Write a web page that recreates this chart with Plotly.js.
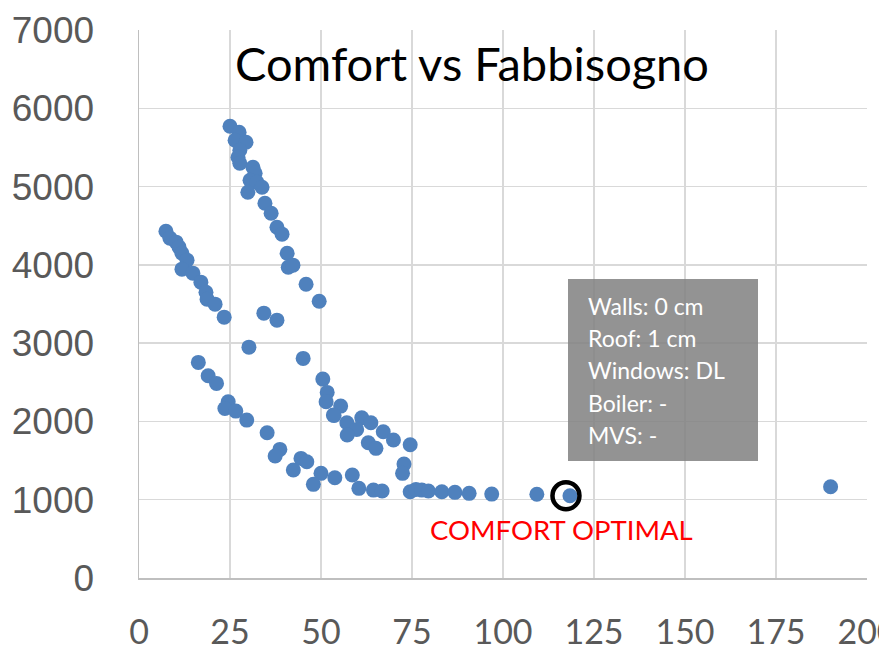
<!DOCTYPE html>
<html>
<head>
<meta charset="utf-8">
<script src="https://cdn.plot.ly/plotly-3.0.1.min.js"></script>
<style>html,body{margin:0;padding:0;background:#fff;}#chart{width:879px;height:648px;}</style>
</head>
<body>
<div id="chart"></div>
<script>
// Fabbisogno (x) values
const fabbisogno = [
  25.0,27.5,26.4,29.4,27.7,27.2,27.7,31.3,31.9,30.5,32.4,33.8,29.9,34.6,36.3,37.9,39.3,40.7,41.0,42.3,45.9,49.5,34.3,37.9,30.2,
  7.4,8.5,10.2,11.0,11.8,13.2,11.8,14.8,17.0,18.4,18.7,20.9,23.4,
  16.3,19.0,21.3,24.5,23.6,26.6,29.6,35.2,38.7,37.4,44.5,46.1,42.4,50.0,47.9,53.8,58.6,60.4,64.4,66.8,
  45.1,50.5,51.7,51.4,53.4,55.4,53.6,57.1,61.2,63.7,59.8,57.2,67.1,69.9,63.0,65.1,74.5,72.8,72.4,
  74.5,76.1,77.7,79.5,83.2,86.8,90.7,96.9,109.3,118.4,190.0
];
// Comfort (y) values
const comfort = [
  5770,5694,5592,5566,5464,5375,5298,5247,5170,5081,5056,4992,4928,4787,4660,4481,4392,4149,3970,3996,3753,3536,3383,3294,2949,
  4430,4341,4290,4226,4149,4060,3945,3894,3779,3651,3562,3498,3332,
  2754,2583,2486,2251,2166,2132,2017,1855,1643,1558,1528,1485,1379,1337,1196,1280,1315,1145,1123,1111,
  2805,2541,2371,2251,2081,2196,2077,1983,2046,1983,1898,1826,1868,1762,1727,1656,1702,1455,1337,
  1102,1132,1123,1111,1102,1094,1081,1072,1069,1051,1166
];
// Comfort-optimal solution
const optimalX = [117.3];
const optimalY = [1051];
const optimalLabel = "COMFORT OPTIMAL";
const infoLines = ["Walls: 0 cm", "Roof: 1 cm", "Windows: DL", "Boiler: -", "MVS: -"];
const chartTitle = "Comfort vs Fabbisogno";
const xTicks = [0,25,50,75,100,125,150,175,200];
const yTicks = [0,1000,2000,3000,4000,5000,6000,7000];

const traces = [
  {
    type: 'scatter', mode: 'markers', x: fabbisogno, y: comfort,
    marker: {color: '#4f81bd', size: 15}, hoverinfo: 'x+y', cliponaxis: false
  },
  {
    type: 'scatter', mode: 'markers', x: optimalX, y: optimalY,
    marker: {symbol: 'circle-open', color: '#000', size: 27, line: {width: 4.5, color: '#000'}},
    hoverinfo: 'skip'
  }
];

const plotTop = 30, plotBottom = 578, plotLeft = 139, plotRight = 867;
const ph = plotBottom - plotTop, pw = plotRight - plotLeft;
const px2x = p => (p - plotLeft) / pw;
const px2y = p => (plotBottom - p) / ph;

const annotations = [
  {
    text: optimalLabel, x: optimalX[0], y: optimalY[0], xref: 'x', yref: 'y',
    showarrow: false, yshift: -34, xshift: -4,
    font: {family: 'Lato, Calibri, sans-serif', size: 27.5, color: '#ff0000'}
  }
];
const lineYs = [306, 338, 370, 403, 435];
infoLines.forEach((t, i) => {
  annotations.push({
    text: t, xref: 'paper', yref: 'paper', x: px2x(586), y: px2y(lineYs[i]),
    xanchor: 'left', yanchor: 'middle', showarrow: false,
    font: {family: 'Lato, Calibri, sans-serif', size: 23, color: '#ffffff'}
  });
});

const layout = {
  width: 879, height: 648,
  margin: {l: plotLeft, r: 879 - plotRight, t: plotTop, b: 648 - plotBottom},
  paper_bgcolor: '#fff', plot_bgcolor: '#fff',
  showlegend: false,
  title: {
    text: chartTitle, x: 0.537, xanchor: 'center', y: 0.9, yanchor: 'middle',
    font: {family: 'Lato, Calibri, sans-serif', size: 47, color: '#000'}
  },
  xaxis: {
    range: [0, 200], tickvals: xTicks, ticktext: xTicks.map(String),
    showgrid: true, gridcolor: '#d9d9d9', gridwidth: 1.5,
    zeroline: false, showline: true, linecolor: '#bfbfbf', linewidth: 1.5,
    ticks: '', ticklabelstandoff: 24, ticklabeloverflow: 'allow',
    tickfont: {family: 'Lato, Calibri, sans-serif', size: 34, color: '#595959'}
  },
  yaxis: {
    range: [0, 7000], tickvals: yTicks, ticktext: yTicks.map(String),
    showgrid: true, gridcolor: '#d9d9d9', gridwidth: 1.5,
    zeroline: false, showline: true, linecolor: '#bfbfbf', linewidth: 1.5,
    ticks: '', ticklabelstandoff: 36,
    tickfont: {family: '"Liberation Sans", Arial, sans-serif', size: 37, color: '#595959'}
  },
  shapes: [
    {
      type: 'rect', xref: 'paper', yref: 'paper',
      x0: px2x(568), x1: px2x(758), y0: px2y(461), y1: px2y(279),
      fillcolor: 'rgba(128,128,128,0.85)', line: {width: 0}, layer: 'above'
    }
  ],
  annotations: annotations
};

Plotly.newPlot('chart', traces, layout, {displayModeBar: false, staticPlot: true});
</script>
</body>
</html>
